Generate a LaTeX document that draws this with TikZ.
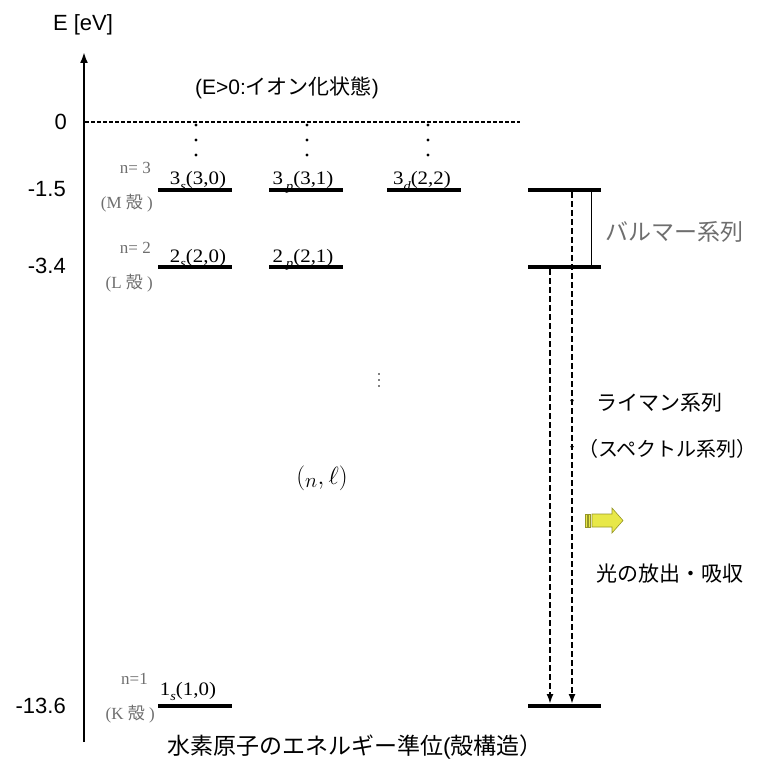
\documentclass[tikz,border=0pt]{standalone}
\usepackage{fontspec}
\setmainfont{Liberation Serif}
\newfontfamily\axsans{Liberation Sans}
\newfontfamily\lvfont[FakeStretch=1.1]{Liberation Serif}
\newfontfamily\jp{Noto Sans CJK JP}
\newfontfamily\jpp[RawFeature=+palt]{Noto Sans CJK JP}
\usetikzlibrary{arrows.meta,decorations.markings}
\definecolor{gtext}{RGB}{110,110,110}
\definecolor{arrowfill}{RGB}{232,232,72}
\definecolor{arrowedge}{RGB}{150,150,40}
\newcommand\lsub[1]{\raisebox{-0.28em}{\fontsize{13}{13}\selectfont\itshape #1}}
\begin{document}
\begin{tikzpicture}[x=1pt,y=-1pt,
  lvl/.style={line width=3.8pt},
  axlab/.style={font=\axsans\fontsize{22}{24}\selectfont, anchor=east, inner sep=0pt},
  lvlab/.style={font=\lvfont\fontsize{19}{21}\selectfont, anchor=base, inner sep=0pt},
  nlab/.style={font=\fontsize{17}{19}\selectfont, text=gtext, anchor=base east, inner sep=0pt},
  shlab/.style={font=\fontsize{17}{19}\selectfont, text=gtext, anchor=east, inner sep=0pt},
  jt/.style={font=\jp\fontsize{21}{24}\selectfont, inner sep=0pt},
  trans/.style={line width=2pt, dash pattern=on 6pt off 3pt, -{Latex[length=10pt,width=7pt]}},
  dotmark/.style={circle, fill=black, inner sep=0pt, minimum size=3.4pt},
  tinydot/.style={circle, fill=black, inner sep=0pt, minimum size=1.8pt}
]
\useasboundingbox (0,0) rectangle (763,762);

% axis
\coordinate (axb) at (84,742);
\coordinate (axt) at (84,52);
\draw[line width=2.4pt, -{Latex[length=11pt,width=8pt]}] (axb) -- (axt);
\node[font=\axsans\fontsize{22}{24}\selectfont, inner sep=0pt] (elab) at (83,25) {E [eV]};

% axis values
\node[axlab] (v0) at (67,122) {0};
\node[axlab] (v15) at (66,189) {-1.5};
\node[axlab] (v34) at (66,266) {-3.4};
\node[axlab] (v136) at (66,706) {-13.6};

% zero line
\coordinate (z0) at (85,122);
\coordinate (z1) at (520,122);
\draw[line width=1.5pt, dash pattern=on 4pt off 2pt] (z0) -- (z1);
\node[jt] (ion) at (287,88) {{\axsans (E>0:}イオン化状態{\axsans )}};

% dots above n=3
\foreach \x/\n in {196/a,307/b,428/c}{
  \node[dotmark] (d\n1) at (\x,125) {};
  \node[dotmark] (d\n2) at (\x,140) {};
  \node[dotmark] (d\n3) at (\x,155) {};
}

% n=3 levels
\coordinate (b3sL) at (158,190); \coordinate (b3sR) at (232,190);
\coordinate (b3pL) at (269,190); \coordinate (b3pR) at (343,190);
\coordinate (b3dL) at (387,190); \coordinate (b3dR) at (461,190);
\draw[lvl] (b3sL) -- (b3sR);
\draw[lvl] (b3pL) -- (b3pR);
\draw[lvl] (b3dL) -- (b3dR);
\node[lvlab] (t3s) at (198,185) {3\lsub{s}(3,0)};
\node[lvlab] (t3p) at (303,185) {3\,\lsub{p}(3,1)};
\node[lvlab] (t3d) at (422,185) {3\lsub{d}(2,2)};
\node[nlab] (n3) at (151,174) {n= 3};
\node[shlab] (m3) at (153,203) {(M {\jp 殻} )};

% n=2 levels
\coordinate (b2sL) at (158,267); \coordinate (b2sR) at (232,267);
\coordinate (b2pL) at (269,267); \coordinate (b2pR) at (343,267);
\draw[lvl] (b2sL) -- (b2sR);
\draw[lvl] (b2pL) -- (b2pR);
\node[lvlab] (t2s) at (198,262) {2\lsub{s}(2,0)};
\node[lvlab] (t2p) at (303,262) {2\,\lsub{p}(2,1)};
\node[nlab] (n2) at (151,254) {n= 2};
\node[shlab] (l2) at (153,283) {(L {\jp 殻} )};

% n=1 level
\coordinate (b1sL) at (158,706); \coordinate (b1sR) at (232,706);
\draw[lvl] (b1sL) -- (b1sR);
\node[lvlab] (t1s) at (188,695) {1\lsub{s}(1,0)};
\node[nlab] (n1) at (148,684) {n=1};
\node[shlab] (k1) at (155,714) {(K {\jp 殻} )};

% middle annotations
\node[tinydot] (vd1) at (379,374) {};
\node[tinydot] (vd2) at (379,380) {};
\node[tinydot] (vd3) at (379,386) {};
\node[inner sep=0pt, font=\fontsize{30}{32}\selectfont] (nl) at (322,478) {$(_{n},\ell)$};

% right column levels
\coordinate (r3L) at (528,190); \coordinate (r3R) at (601,190);
\coordinate (r2L) at (528,267); \coordinate (r2R) at (601,267);
\coordinate (r1L) at (528,706); \coordinate (r1R) at (601,706);
\draw[lvl] (r3L) -- (r3R);
\draw[lvl] (r2L) -- (r2R);
\draw[lvl] (r1L) -- (r1R);

% transitions
\coordinate (t1a) at (572,192);
\coordinate (t1b) at (572,704);
\coordinate (t2a) at (550,269);
\coordinate (t2b) at (550,704);
\draw[trans, postaction={decorate, decoration={markings,
   mark=at position 0.414 with {\arrow{Latex[length=4pt,width=4pt]}},
   mark=at position 0.504 with {\arrow{Latex[length=4pt,width=4pt]}}}}] (t1a) -- (t1b);
\draw[trans] (t2a) -- (t2b);

% Balmer bracket line
\coordinate (bal1) at (591,191);
\coordinate (bal2) at (591,265);
\draw[line width=1pt] (bal1) -- (bal2);
\node[jt, anchor=west, text=gtext, font=\jp\fontsize{23}{25}\selectfont] (balmer) at (605,232) {バルマー系列};

% Lyman labels
\node[jt, anchor=west] (lyman) at (596,403) {ライマン系列};
\node[jt, anchor=west, font=\jp\fontsize{20}{24}\selectfont] (spec) at (588,449) {{\jpp （}スペクトル系列{\jpp ）}};

% yellow arrow
\fill[arrowfill, draw=arrowedge, line width=0.5pt] (585,514) rectangle (587,527);
\fill[arrowfill, draw=arrowedge, line width=0.5pt] (588.5,514) rectangle (590.5,527);
\filldraw[fill=arrowfill, draw=arrowedge, line width=0.6pt]
  (592,514) -- (612,514) -- (612,508) -- (623,520.5) -- (612,533) -- (612,527) -- (592,527) -- cycle;
\node[jt, anchor=west] (light) at (596,574) {光の放出・吸収};

% caption
\node[jt, font=\jp\fontsize{23}{25}\selectfont] (cap) at (355,747) {水素原子のエネルギー準位{\axsans (}殻構造）};
\end{tikzpicture}
\end{document}
